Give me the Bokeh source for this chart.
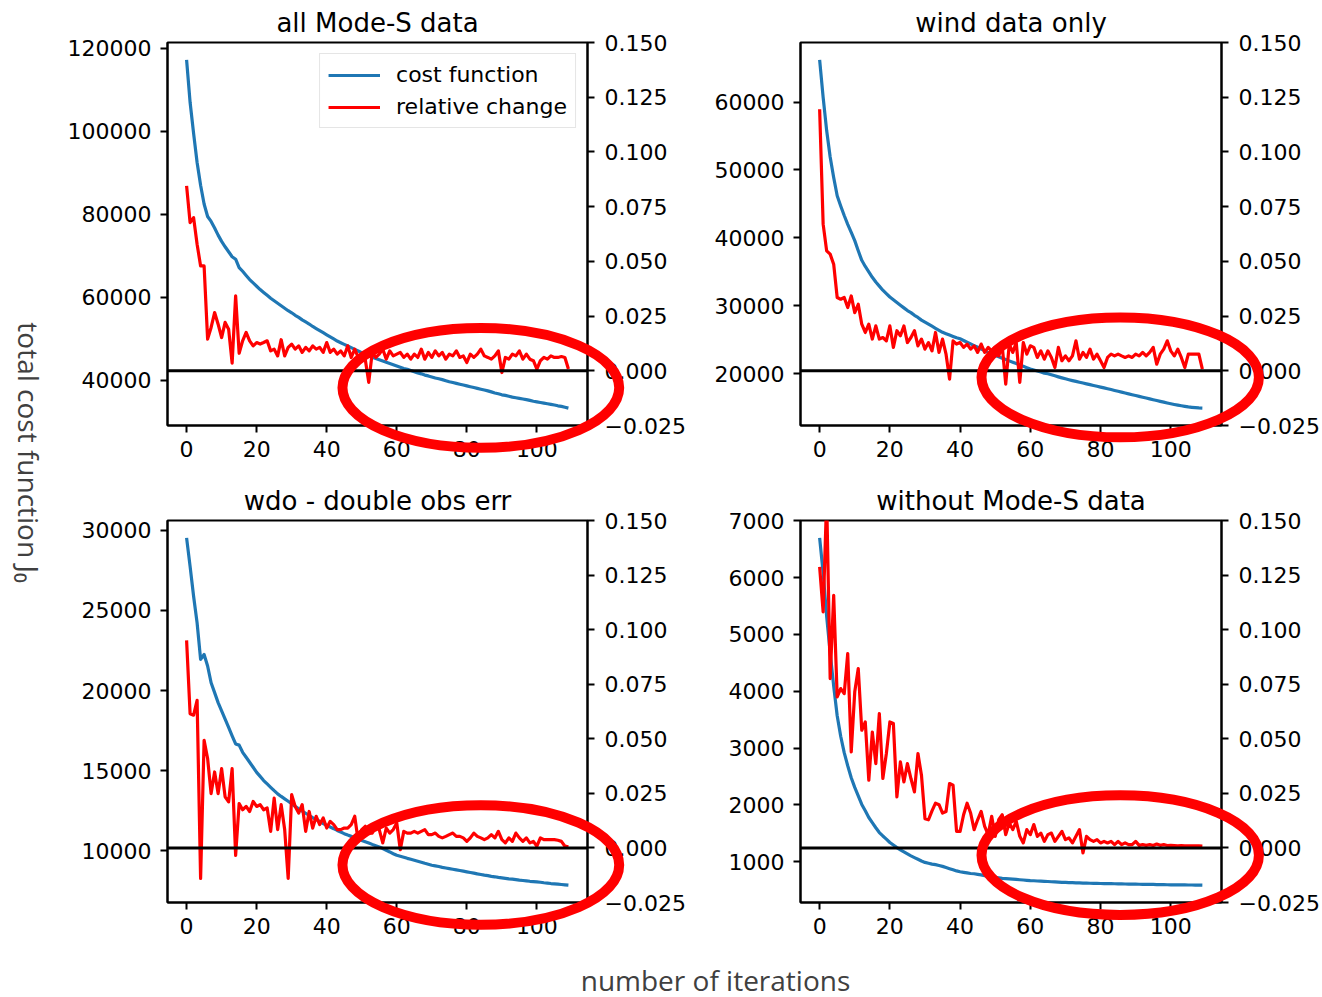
import numpy as np
from bokeh.plotting import figure
from bokeh.models import (Range1d, LinearAxis, FixedTicker, CustomJSTickFormatter,
                          Span, Legend, LegendItem, Label, GridBox)
from bokeh.embed import file_html
from bokeh.resources import INLINE

iterations = list(range(110))

titles = ["all Mode-S data", "wind data only", "wdo - double obs err", "without Mode-S data"]

cost_all = [
    117200, 107000, 99500, 92500, 87000, 82500, 79500, 78300, 76700, 75000,
    73500, 72200, 71000, 69800, 69200, 67200, 66300, 65300, 64300, 63500,
    62700, 61900, 61200, 60500, 59800, 59200, 58600, 58000, 57400, 56800,
    56300, 55700, 55200, 54600, 54100, 53600, 53000, 52500, 52000, 51500,
    51000, 50500, 50000, 49500, 49100, 48700, 48300, 47900, 47500, 47100,
    46700, 46300, 46000, 45600, 45300, 45000, 44700, 44400, 44100, 43800,
    43500, 43200, 42900, 42700, 42400, 42100, 41800, 41600, 41300, 41100,
    40850, 40600, 40400, 40200, 39950, 39700, 39500, 39300, 39100, 38900,
    38700, 38500, 38300, 38100, 37900, 37700, 37500, 37250, 37000, 36800,
    36550, 36400, 36200, 36000, 35850, 35700, 35550, 35400, 35200, 35000,
    34850, 34700, 34550, 34400, 34250, 34100, 33900, 33750, 33550, 33350]

rel_all = [
    0.0845, 0.0677, 0.0700, 0.0578, 0.0479, 0.0479, 0.0145, 0.0198, 0.0266, 0.0213,
    0.0152, 0.0221, 0.0190, 0.0035, 0.0342, 0.0080, 0.0137, 0.0175, 0.0137, 0.0114,
    0.0129, 0.0122, 0.0129, 0.0137, 0.0091, 0.0099, 0.0068, 0.0142, 0.0068, 0.0107,
    0.0122, 0.0099, 0.0114, 0.0084, 0.0107, 0.0091, 0.0114, 0.0099, 0.0107, 0.0084,
    0.0129, 0.0084, 0.0099, 0.0076, 0.0091, 0.0068, 0.0114, 0.0061, 0.0099, 0.0061,
    0.0068, 0.0053, -0.0053, 0.0084, 0.0061, 0.0076, 0.0099, 0.0053, 0.0091, 0.0068,
    0.0076, 0.0084, 0.0061, 0.0076, 0.0053, 0.0076, 0.0061, 0.0099, 0.0053, 0.0084,
    0.0061, 0.0091, 0.0068, 0.0084, 0.0053, 0.0076, 0.0068, 0.0091, 0.0061, 0.0068,
    0.0038, 0.0076, 0.0061, 0.0076, 0.0099, 0.0068, 0.0061, 0.0053, 0.0068, 0.0091,
    -0.0008, 0.0061, 0.0053, 0.0076, 0.0068, 0.0091, 0.0053, 0.0076, 0.0053, 0.0046,
    0.0008, 0.0046, 0.0061, 0.0053, 0.0068, 0.0061, 0.0061, 0.0065, 0.0061, 0.0008]

cost_wind = [
    66200, 60700, 55800, 51900, 48900, 46200, 44700, 43300, 42000, 40800,
    39600, 38100, 36700, 35800, 35000, 34200, 33500, 32900, 32300, 31800,
    31300, 30900, 30500, 30100, 29700, 29300, 29000, 28600, 28300, 27900,
    27600, 27300, 27000, 26700, 26400, 26100, 25900, 25700, 25500, 25300,
    25150, 24900, 24650, 24400, 24150, 23900, 23650, 23400, 23150, 22900,
    22700, 22500, 22300, 22100, 21900, 21700, 21500, 21300, 21100, 20900,
    20700, 20550, 20400, 20250, 20100, 20000, 19850, 19700, 19550, 19400,
    19260, 19130, 19000, 18880, 18760, 18640, 18520, 18400, 18280, 18160,
    18040, 17920, 17800, 17680, 17550, 17420, 17300, 17170, 17050, 16920,
    16800, 16680, 16550, 16430, 16300, 16180, 16060, 15940, 15820, 15700,
    15590, 15480, 15380, 15290, 15200, 15120, 15060, 15010, 14970, 14950]

rel_wind = [
    0.1195, 0.0670, 0.0548, 0.0533, 0.0487, 0.0335, 0.0327, 0.0335, 0.0289, 0.0342,
    0.0266, 0.0304, 0.0213, 0.0175, 0.0213, 0.0145, 0.0205, 0.0145, 0.0152, 0.0137,
    0.0205, 0.0107, 0.0183, 0.0160, 0.0205, 0.0129, 0.0152, 0.0183, 0.0114, 0.0145,
    0.0099, 0.0129, 0.0091, 0.0175, 0.0084, 0.0145, 0.0076, -0.0038, 0.0137, 0.0122,
    0.0129, 0.0107, 0.0122, 0.0099, 0.0114, 0.0084, 0.0122, 0.0084, 0.0107, 0.0091,
    0.0107, 0.0068, 0.0114, -0.0061, 0.0122, 0.0084, 0.0129, -0.0053, 0.0129, 0.0076,
    0.0114, 0.0107, 0.0061, 0.0091, 0.0053, 0.0091, 0.0061, 0.0015, 0.0107, 0.0046,
    0.0068, 0.0046, 0.0068, 0.0137, 0.0053, 0.0084, 0.0061, 0.0099, 0.0053, 0.0076,
    0.0046, 0.0015, 0.0061, 0.0076, 0.0068, 0.0076, 0.0068, 0.0061, 0.0068, 0.0061,
    0.0076, 0.0068, 0.0084, 0.0068, 0.0084, 0.0107, 0.0030, 0.0076, 0.0099, 0.0137,
    0.0091, 0.0068, 0.0099, 0.0061, 0.0015, 0.0076, 0.0076, 0.0076, 0.0076, 0.0008]

cost_wdo = [
    29520, 27740, 25880, 24220, 21940, 22250, 21530, 20490, 19870, 19250,
    18740, 18220, 17700, 17180, 16670, 16600, 16150, 15840, 15530, 15220,
    14900, 14650, 14390, 14180, 13970, 13760, 13560, 13400, 13250, 13100,
    12940, 12780, 12630, 12490, 12350, 12210, 12080, 11960, 11840, 11710,
    11590, 11490, 11390, 11280, 11180, 11080, 10990, 10910, 10830, 10740,
    10660, 10580, 10500, 10410, 10330, 10250, 10150, 10040, 9940, 9830,
    9730, 9670, 9610, 9540, 9480, 9420, 9360, 9300, 9230, 9170,
    9110, 9070, 9030, 8980, 8940, 8900, 8860, 8820, 8780, 8740,
    8700, 8660, 8620, 8570, 8530, 8490, 8460, 8420, 8390, 8350,
    8320, 8290, 8260, 8240, 8210, 8180, 8160, 8140, 8110, 8090,
    8070, 8050, 8020, 8000, 7970, 7950, 7930, 7910, 7890, 7870]

rel_wdo = [
    0.0951, 0.0615, 0.0608, 0.0676, -0.0140, 0.0493, 0.0410, 0.0249, 0.0348, 0.0249,
    0.0363, 0.0234, 0.0211, 0.0363, -0.0034, 0.0203, 0.0175, 0.0190, 0.0167, 0.0213,
    0.0190, 0.0198, 0.0175, 0.0183, 0.0076, 0.0228, 0.0084, 0.0198, 0.0084, -0.0140,
    0.0244, 0.0190, 0.0160, 0.0198, 0.0076, 0.0167, 0.0091, 0.0145, 0.0107, 0.0137,
    0.0091, 0.0122, 0.0107, 0.0084, 0.0084, 0.0091, 0.0091, 0.0107, 0.0145, 0.0030,
    0.0084, 0.0099, 0.0068, 0.0068, 0.0099, 0.0084, 0.0023, 0.0091, 0.0068, 0.0084,
    0.0114, -0.0008, 0.0076, 0.0068, 0.0068, 0.0076, 0.0068, 0.0076, 0.0084, 0.0061,
    0.0061, 0.0068, 0.0053, 0.0046, 0.0053, 0.0061, 0.0068, 0.0053, 0.0053, 0.0046,
    0.0030, 0.0046, 0.0068, 0.0053, 0.0046, 0.0038, 0.0046, 0.0061, 0.0046, 0.0076,
    0.0038, 0.0023, 0.0046, 0.0030, 0.0068, 0.0046, 0.0030, 0.0046, 0.0023, 0.0030,
    0.0008, 0.0046, 0.0038, 0.0038, 0.0038, 0.0038, 0.0035, 0.0030, 0.0008, 0.0005]

cost_without = [
    6700, 6085, 5320, 4680, 4090, 3570, 3210, 2920, 2690, 2480,
    2310, 2160, 2010, 1900, 1780, 1690, 1600, 1515, 1455, 1400,
    1340, 1295, 1250, 1210, 1175, 1140, 1105, 1075, 1045, 1015,
    990, 975, 960, 950, 935, 920, 900, 880, 860, 840,
    825, 815, 805, 795, 790, 780, 770, 755, 745, 735,
    725, 720, 710, 705, 700, 695, 690, 685, 680, 675,
    670, 667, 663, 660, 657, 654, 650, 647, 643, 640,
    637, 635, 633, 631, 629, 627, 625, 623, 621, 620,
    619, 618, 617, 615, 614, 613, 612, 610, 609, 608,
    607, 606, 605, 604, 603, 602, 600, 599, 598, 597,
    596, 595, 595, 594, 593, 592, 592, 591, 591, 590]

rel_without = [
    0.1287, 0.1081, 0.1600, 0.0776, 0.1157, 0.0692, 0.0730, 0.0707, 0.0890, 0.0440,
    0.0715, 0.0822, 0.0539, 0.0577, 0.0310, 0.0531, 0.0386, 0.0615, 0.0318, 0.0432,
    0.0577, 0.0570, 0.0234, 0.0394, 0.0302, 0.0386, 0.0318, 0.0257, 0.0432, 0.0333,
    0.0134, 0.0129, 0.0170, 0.0205, 0.0198, 0.0160, 0.0167, 0.0295, 0.0287, 0.0076,
    0.0076, 0.0152, 0.0205, 0.0160, 0.0084, 0.0129, 0.0167, 0.0099, 0.0061, 0.0145,
    0.0053, 0.0129, 0.0152, 0.0061, 0.0114, 0.0084, 0.0122, 0.0053, 0.0023, 0.0084,
    0.0061, 0.0107, 0.0053, 0.0068, 0.0030, 0.0061, 0.0068, 0.0030, 0.0053, 0.0076,
    0.0038, 0.0046, 0.0023, 0.0053, 0.0084, -0.0023, 0.0053, 0.0038, 0.0030, 0.0038,
    0.0023, 0.0030, 0.0023, 0.0030, 0.0015, 0.0030, 0.0015, 0.0023, 0.0015, 0.0015,
    0.0030, 0.0012, 0.0015, 0.0012, 0.0015, 0.0011, 0.0018, 0.0012, 0.0015, 0.0011,
    0.0012, 0.0011, 0.0010, 0.0011, 0.0010, 0.0010, 0.0009, 0.0009, 0.0009, 0.0008]

left_ticks = [
    [40000, 60000, 80000, 100000, 120000],
    [20000, 30000, 40000, 50000, 60000],
    [10000, 15000, 20000, 25000, 30000],
    [1000, 2000, 3000, 4000, 5000, 6000, 7000],
]
rel_ticks = [-0.025, 0.0, 0.025, 0.05, 0.075, 0.1, 0.125, 0.15]
x_ticks = [0, 20, 40, 60, 80, 100]
rel_limits = (-0.025, 0.150)

# highlight ellipses: (center iteration, center on relative-change axis); semi-axes
ellipses = [(84.0, -0.0078), (85.6, -0.0030), (84.0, -0.0078), (85.6, -0.0033)]
ell_a, ell_b = 39.5, 0.0274

costs = [cost_all, cost_wind, cost_wdo, cost_without]
rels = [rel_all, rel_wind, rel_wdo, rel_without]

TICK_FONT = "DejaVu Sans"
left_fmt = CustomJSTickFormatter(code="return tick.toFixed(0);")
rel_fmt = CustomJSTickFormatter(
    code="var t = Math.abs(tick) < 1e-12 ? 0 : tick; return t.toFixed(3).replace('-', '\u2212');")
x_fmt = CustomJSTickFormatter(code="return tick.toFixed(0);")

PAGE_W, PAGE_H = 1322, 997
COL_W = [60, 635, 627]
ROW_H = [475, 470, 52]
# frame borders (left, right, top, bottom) of the four panels
panel_cells = [(0, 1), (0, 2), (1, 1), (1, 2)]
panel_borders = [(107, 108, 42, 50), (105, 101, 42, 50), (107, 108, 45, 43), (105, 101, 45, 43)]


def style_axis(ax, standoff):
    ax.major_label_text_font = TICK_FONT
    ax.major_label_text_font_size = "22px"
    ax.major_label_text_color = "black"
    ax.axis_line_width = 2
    ax.axis_line_color = "black"
    ax.major_tick_line_width = 2
    ax.major_tick_line_color = "black"
    ax.major_tick_out = 7
    ax.major_tick_in = 0
    ax.minor_tick_out = 0
    ax.minor_tick_in = 0
    ax.major_label_standoff = standoff


def xlimits():
    xpad = 0.05 * (iterations[-1] - iterations[0])
    return iterations[0] - xpad, iterations[-1] + xpad


def make_panel(i, width, height, borders):
    cost = costs[i]
    rel = rels[i]
    cmin, cmax = min(cost), max(cost)
    pad = 0.05 * (cmax - cmin)
    x0, x1 = xlimits()
    p = figure(width=width, height=height, output_backend="svg", toolbar_location=None,
               x_range=Range1d(x0, x1), y_range=Range1d(cmin - pad, cmax + pad),
               min_border_left=borders[0], min_border_right=borders[1],
               min_border_top=borders[2], min_border_bottom=borders[3])
    p.extra_y_ranges = {"rel": Range1d(*rel_limits)}
    p.xgrid.visible = False
    p.ygrid.visible = False
    p.outline_line_color = "black"
    p.outline_line_width = 2
    p.background_fill_color = "white"
    p.border_fill_color = "white"

    p.title.text = titles[i]
    p.title.text_font = TICK_FONT
    p.title.text_font_size = "26px"
    p.title.text_font_style = "normal"
    p.title.align = "center"
    p.title.text_color = "black"

    p.xaxis.ticker = FixedTicker(ticks=x_ticks)
    p.xaxis.formatter = x_fmt
    p.yaxis.ticker = FixedTicker(ticks=left_ticks[i])
    p.yaxis.formatter = left_fmt
    rax = LinearAxis(y_range_name="rel", ticker=FixedTicker(ticks=rel_ticks), formatter=rel_fmt)
    p.add_layout(rax, "right")
    style_axis(p.xaxis[0], 8)
    style_axis(p.yaxis[0], 9)
    style_axis(rax, 10)

    bl = p.line(iterations, cost, line_color="#1f77b4", line_width=3.2, line_join="round")
    rl = p.line(iterations, rel, line_color="red", line_width=3.2, line_join="round",
                y_range_name="rel")
    p.add_layout(Span(location=0, dimension="width", y_range_name="rel",
                      line_color="black", line_width=3))

    if i == 0:
        leg = Legend(items=[LegendItem(label="cost function", renderers=[bl]),
                            LegendItem(label="relative change", renderers=[rl])],
                     location="top_right")
        leg.label_text_font = TICK_FONT
        leg.label_text_font_size = "22px"
        leg.label_text_color = "black"
        leg.border_line_color = "#cccccc"
        leg.border_line_width = 1.5
        leg.background_fill_alpha = 0.8
        leg.glyph_width = 52
        leg.glyph_height = 24
        leg.label_height = 24
        leg.label_standoff = 16
        leg.padding = 8
        leg.spacing = 7
        leg.margin = 11
        p.add_layout(leg)
    return p


panels = []
for i, (r, c) in enumerate(panel_cells):
    panels.append(make_panel(i, COL_W[c], ROW_H[r], panel_borders[i]))

# The grid aligns frame edges, so blank helper figures get borders equal to
# the aligned values and ranges expressed in page pixels (y downwards).
TOP_ALIGN = 42
LEFT_ALIGN_COL1 = 107
RIGHT_ALIGN_COL2 = 101


def blank(width, height, borders, xr, yr):
    f = figure(width=width, height=height, output_backend="svg", toolbar_location=None,
               x_range=Range1d(*xr), y_range=Range1d(*yr),
               x_axis_type=None, y_axis_type=None,
               min_border_left=borders[0], min_border_right=borders[1],
               min_border_top=borders[2], min_border_bottom=borders[3])
    f.xgrid.visible = False
    f.ygrid.visible = False
    f.outline_line_color = None
    f.background_fill_color = None
    f.border_fill_color = None
    return f


ylab = blank(COL_W[0], PAGE_H, (0, 0, TOP_ALIGN, 0), (0, COL_W[0]), (PAGE_H, TOP_ALIGN))
ylab.add_layout(Label(x=28, y=452, text="total cost function J\u2080", angle=-np.pi / 2,
                      text_align="center", text_baseline="middle",
                      text_font="Open Sans", text_font_size="28px", text_color="#404040"))

xl0 = COL_W[0] + LEFT_ALIGN_COL1
xl1 = PAGE_W - RIGHT_ALIGN_COL2
xlab = blank(COL_W[1] + COL_W[2], ROW_H[2], (LEFT_ALIGN_COL1, RIGHT_ALIGN_COL2, 0, 0),
             (xl0, xl1), (PAGE_H, PAGE_H - ROW_H[2]))
xlab.add_layout(Label(x=715, y=979, text="number of iterations",
                      text_align="center", text_baseline="middle",
                      text_font="Open Sans", text_font_size="28px", text_color="#404040"))

# transparent overlay carrying the hand-drawn highlight ellipses (they extend past the frames);
# it spans an extra empty grid column so its right frame edge is not aligned to the panels
overlay = blank(PAGE_W, PAGE_H, (0, 0, TOP_ALIGN, 0), (0, PAGE_W), (PAGE_H, TOP_ALIGN))
x0, x1 = xlimits()
for i, (r, c) in enumerate(panel_cells):
    left, right, top, bottom = panel_borders[i]
    ox = sum(COL_W[:c]) + left
    oy = sum(ROW_H[:r]) + top
    fw = COL_W[c] - left - right
    fh = ROW_H[r] - top - bottom
    cx, cy = ellipses[i]
    px = ox + (cx - x0) / (x1 - x0) * fw
    py = oy + (rel_limits[1] - cy) / (rel_limits[1] - rel_limits[0]) * fh
    w = 2 * ell_a / (x1 - x0) * fw
    h = 2 * ell_b / (rel_limits[1] - rel_limits[0]) * fh
    overlay.ellipse(x=[px], y=[py], width=[w], height=[h], fill_color=None,
                    line_color="red", line_width=10)

children = [(ylab, 0, 0, 3, 1)]
for p, (r, c) in zip(panels, panel_cells):
    children.append((p, r, c))
children.append((xlab, 2, 1, 1, 2))
children.append((overlay, 0, 0, 3, 4))
layout = GridBox(children=children, spacing=0)

open("out.html", "w").write(file_html(layout, INLINE))
